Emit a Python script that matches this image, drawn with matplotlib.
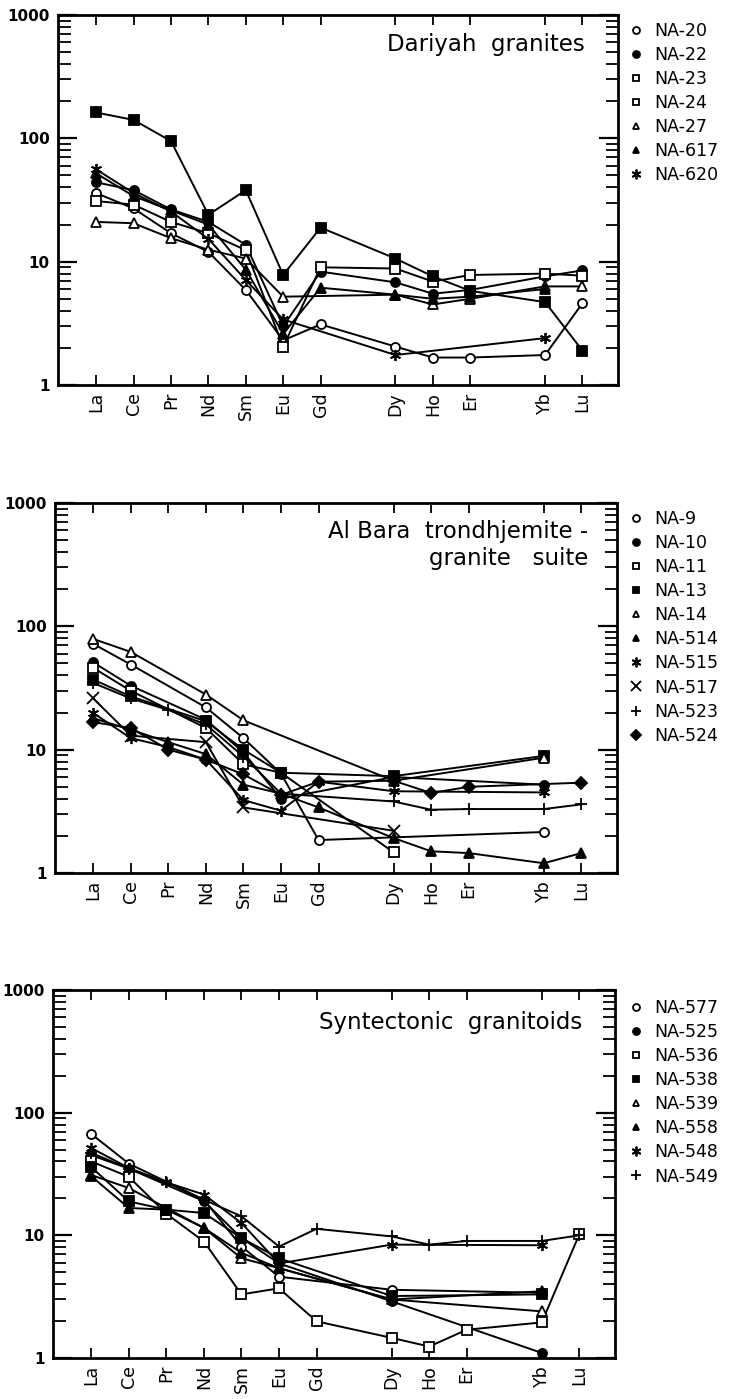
import numpy as np
import matplotlib
matplotlib.use("Agg")
import matplotlib.pyplot as plt
from matplotlib.lines import Line2D
from matplotlib.ticker import LogLocator, FixedLocator, NullFormatter

nan = np.nan

# Lanthanide sequence used for the x axis (Tb and Tm not analysed)
sequence = ["La", "Ce", "Pr", "Nd", "Sm", "Eu", "Gd", "Tb", "Dy", "Ho", "Er", "Tm", "Yb", "Lu"]
elements = ["La", "Ce", "Pr", "Nd", "Sm", "Eu", "Gd", "Dy", "Ho", "Er", "Yb", "Lu"]

# ---------------- Panel 1: Dariyah granites ----------------
title1 = "Dariyah  granites"
labels1 = ["NA-20", "NA-22", "NA-23", "NA-24", "NA-27", "NA-617", "NA-620"]
na20 = [36, 27, 17, 12, 5.9, 2.3, 3.1, 2.05, 1.67, 1.67, 1.75, 4.6]
na22 = [44, 38, 26.5, 21, 13.7, 3.0, 8.3, 6.8, 5.5, 5.9, 7.6, 8.5]
na23 = [31, 29, 21, 17, 12.4, 2.05, 9.0, 8.8, 6.9, 7.8, 8.0, 7.7]
na24 = [162, 141, 95, 24, 38, 7.8, 18.9, 10.6, 7.6, 5.8, 4.7, 1.9]
na27 = [21, 20.5, 15.5, 12.5, 10.6, 5.2, nan, 5.4, 4.5, 5.0, 6.3, 6.3]
na617 = [52, 34, 26, 20, 8.6, 2.6, 6.15, 5.4, 5.0, 5.2, 6.0, nan]
na620 = [56, 36, 25.5, 15.3, 7.1, 3.4, nan, 1.75, nan, nan, 2.4, nan]
series1 = [na20, na22, na23, na24, na27, na617, na620]

# ---------------- Panel 2: Al Bara trondhjemite-granite suite ----------------
title2 = "Al Bara  trondhjemite -\ngranite   suite"
labels2 = ["NA-9", "NA-10", "NA-11", "NA-13", "NA-14", "NA-514", "NA-515", "NA-517", "NA-523", "NA-524"]
na9 = [72, 49, nan, 22, 12.4, 6.4, 1.85, nan, nan, nan, 2.15, nan]
na10 = [51, 33, nan, 17.5, 9.5, 4.0, nan, 6.0, nan, nan, 5.2, nan]
na11 = [46, 30, nan, 15, 7.6, 6.5, nan, 1.47, nan, nan, nan, nan]
na13 = [37, 27, nan, 17, 10, 6.5, nan, 6.1, nan, nan, 8.9, nan]
na14 = [79, 62, nan, 28, 17.3, nan, nan, 5.6, nan, nan, 8.6, nan]
na514 = [18, 14.5, 11.5, 9.2, 5.2, 4.4, 3.4, 1.92, 1.5, 1.45, 1.2, 1.45]
na515 = [19.8, 12.4, 10.5, 8.3, 3.9, 3.2, 5.5, 4.6, nan, nan, 4.5, nan]
na517 = [26, 13, nan, 11.5, 3.4, nan, nan, 2.2, nan, nan, nan, nan]
na523 = [34.7, 26, 21, 16, 8.8, 4.4, nan, 3.8, 3.26, 3.3, 3.3, 3.6]
na524 = [16.7, 15, 10, 8.3, 6.3, 4.3, 5.5, 5.6, 4.45, 5.0, nan, 5.4]
series2 = [na9, na10, na11, na13, na14, na514, na515, na517, na523, na524]

# ---------------- Panel 3: Syntectonic granitoids ----------------
title3 = "Syntectonic  granitoids"
labels3 = ["NA-577", "NA-525", "NA-536", "NA-538", "NA-539", "NA-558", "NA-548", "NA-549"]
na577 = [67, 38.4, nan, 19.5, 8.1, 4.6, nan, 3.6, nan, nan, 3.4, nan]
na525 = [45, 35, nan, 19, 9.5, 5.9, nan, 2.9, nan, nan, 1.1, nan]
na536 = [40, 30, 15, 8.9, 3.3, 3.7, 1.99, 1.46, 1.24, 1.7, 1.95, 10.2]
na538 = [36, 18.9, 16.2, 15.2, 9.5, 6.5, nan, 3.2, nan, nan, 3.3, nan]
na539 = [31, 24.3, nan, 11.5, 6.5, 5.4, nan, 3.0, nan, nan, 2.4, nan]
na558 = [30.3, 16.7, 16.2, 11.5, 7.2, 5.4, nan, 3.0, nan, nan, 3.5, nan]
na548 = [51.5, 35.4, 27, 21.5, 12.6, 5.9, nan, 8.4, nan, nan, 8.3, nan]
na549 = [47, 35, 27, 19.5, 14.3, 8.1, 11.3, 9.8, 8.4, 9.0, 9.0, 10.0]
series3 = [na577, na525, na536, na538, na539, na558, na548, na549]

# marker styles: (marker, filled)
asterisk = (6, 2, 0)
styles1 = [("o", False), ("o", True), ("s", False), ("s", True), ("^", False), ("^", True), (asterisk, True)]
legend_styles1 = [("o", False), ("o", True), ("s", False), ("s", False), ("^", False), ("^", True), (asterisk, True)]
styles2 = [("o", False), ("o", True), ("s", False), ("s", True), ("^", False), ("^", True),
           (asterisk, True), ("x", True), ("+", True), ("D", True)]
styles3 = [("o", False), ("o", True), ("s", False), ("s", True), ("^", False), ("^", True),
           (asterisk, True), ("+", True)]

plt.rcParams["font.family"] = ["DejaVu Sans"]

fig = plt.figure(figsize=(7.35, 13.99), dpi=100)
W, H = 735.0, 1399.0

panels = [
    dict(box=(58, 15, 618, 385), title=title1, tpos=(585, 44), labels=labels1, series=series1,
         styles=styles1, lstyles=legend_styles1, leg_y=30),
    dict(box=(55, 503, 617, 873), title=title2, tpos=(588, 545), labels=labels2, series=series2,
         styles=styles2, lstyles=styles2, leg_y=518),
    dict(box=(53, 990, 615, 1358), title=title3, tpos=(582, 1022), labels=labels3, series=series3,
         styles=styles3, lstyles=styles3, leg_y=1007),
]

xpos_all = np.array([sequence.index(e) for e in elements], dtype=float)

for p in panels:
    x0, y0, x1, y1 = p["box"]
    ax = fig.add_axes([x0 / W, 1 - y1 / H, (x1 - x0) / W, (y1 - y0) / H])
    ax.set_yscale("log")
    ax.set_ylim(1, 1000)
    ax.set_xlim(-1.02, 13.95)

    for vals, (mk, filled) in zip(p["series"], p["styles"]):
        v = np.array(vals, dtype=float)
        m = ~np.isnan(v)
        ax.plot(xpos_all[m], v[m], color="black", lw=1.4, marker=mk,
                ms=6.5 if mk not in ("x", "+", asterisk) else 8,
                mfc="black" if filled else "white", mec="black", mew=1.3, zorder=3)

    # ticks
    ax.xaxis.set_major_locator(FixedLocator(xpos_all))
    ax.set_xticklabels(elements, rotation=90, fontsize=12.5)
    ax.tick_params(axis="x", which="major", direction="in", length=7, width=1.3, top=True, bottom=True, pad=5)
    ax.yaxis.set_minor_locator(LogLocator(base=10, subs=np.arange(2, 10), numticks=12))
    ax.yaxis.set_minor_formatter(NullFormatter())
    ax.set_yticks([1, 10, 100, 1000])
    ax.set_yticklabels(["1", "10", "100", "1000"], fontsize=11, fontweight="bold")
    ax.tick_params(axis="y", which="major", direction="in", length=14, width=1.6, left=True, right=True, pad=6)
    ax.tick_params(axis="y", which="minor", direction="in", length=9, width=1.3, left=True, right=True)
    for s in ax.spines.values():
        s.set_linewidth(2.0)

    # title inside the panel
    tx, ty = p["tpos"]
    ax.text(tx / W, 1 - ty / H, p["title"], transform=fig.transFigure, ha="right", va="center",
            fontsize=16.5, linespacing=1.2)

    # legend
    handles = []
    for (mk, filled) in p["lstyles"]:
        handles.append(Line2D([], [], ls="none", marker=mk, color="black",
                              mfc="black" if filled else "white", mec="black", mew=1.3,
                              ms=5 if mk not in ("x", "+", asterisk) else 7))
    fig.legend(handles, p["labels"], loc="upper left", bbox_to_anchor=(628 / W, 1 - (p["leg_y"] - 8) / H),
               frameon=False, handlelength=0.9, handletextpad=0.6, labelspacing=0.35,
               borderaxespad=0, borderpad=0, fontsize=12.5)

fig.savefig("out.png", dpi=100, facecolor="white")
